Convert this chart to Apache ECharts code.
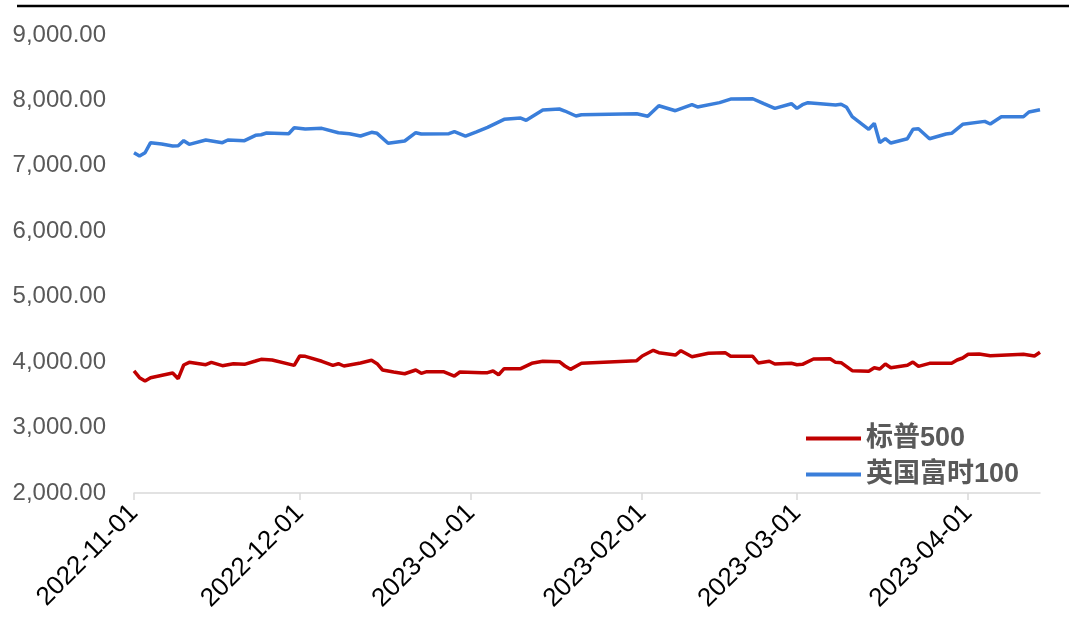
<!DOCTYPE html>
<html>
<head>
<meta charset="utf-8">
<script src="https://cdn.jsdelivr.net/npm/echarts@6/dist/echarts.min.js"></script>
<style>
html,body{margin:0;padding:0;background:#fff;}
#chart{width:1069px;height:638px;}
</style>
</head>
<body>
<div id="chart"></div>
<script>
// S&P 500 (标普500)
var spxDates = ['2022-11-01','2022-11-02','2022-11-03','2022-11-04','2022-11-08','2022-11-09','2022-11-10','2022-11-11','2022-11-14','2022-11-15','2022-11-17','2022-11-19','2022-11-21','2022-11-23','2022-11-24','2022-11-26','2022-11-30','2022-12-01','2022-12-02','2022-12-05','2022-12-07','2022-12-08','2022-12-09','2022-12-12','2022-12-14','2022-12-15','2022-12-16','2022-12-18','2022-12-20','2022-12-22','2022-12-23','2022-12-24','2022-12-27','2022-12-29','2022-12-30','2023-01-03','2023-01-04','2023-01-05','2023-01-06','2023-01-07','2023-01-10','2023-01-12','2023-01-14','2023-01-17','2023-01-18','2023-01-19','2023-01-21','2023-01-31','2023-02-01','2023-02-03','2023-02-04','2023-02-07','2023-02-08','2023-02-10','2023-02-13','2023-02-16','2023-02-17','2023-02-21','2023-02-22','2023-02-24','2023-02-25','2023-02-28','2023-03-01','2023-03-02','2023-03-04','2023-03-07','2023-03-08','2023-03-09','2023-03-11','2023-03-14','2023-03-15','2023-03-16','2023-03-17','2023-03-18','2023-03-21','2023-03-22','2023-03-23','2023-03-25','2023-03-29','2023-03-30','2023-03-31','2023-04-01','2023-04-03','2023-04-05','2023-04-11','2023-04-13','2023-04-14'];
var spxValues = [3865,3762,3712,3762,3835,3747,3956,3997,3961,3997,3946,3976,3966,4017,4043,4032,3951,4094,4089,4013,3951,3976,3941,3987,4028,3976,3880,3849,3823,3880,3829,3854,3854,3788,3849,3839,3839,3865,3808,3900,3900,3982,4013,4007,3941,3890,3982,4022,4094,4181,4145,4109,4175,4083,4135,4145,4089,4089,3987,4013,3972,3982,3961,3966,4048,4053,3997,3992,3870,3860,3915,3895,3972,3915,3951,4002,3936,3982,3982,4033,4063,4120,4124,4099,4120,4094,4150];

// FTSE 100 (英国富时100)
var ftseDates = ['2022-11-01','2022-11-02','2022-11-03','2022-11-04','2022-11-06','2022-11-08','2022-11-09','2022-11-10','2022-11-11','2022-11-14','2022-11-17','2022-11-18','2022-11-21','2022-11-23','2022-11-24','2022-11-25','2022-11-29','2022-11-30','2022-12-02','2022-12-05','2022-12-08','2022-12-10','2022-12-12','2022-12-14','2022-12-15','2022-12-17','2022-12-20','2022-12-22','2022-12-23','2022-12-28','2022-12-29','2022-12-31','2023-01-02','2023-01-04','2023-01-07','2023-01-10','2023-01-11','2023-01-14','2023-01-17','2023-01-18','2023-01-20','2023-01-21','2023-01-31','2023-02-02','2023-02-04','2023-02-07','2023-02-10','2023-02-11','2023-02-15','2023-02-17','2023-02-21','2023-02-23','2023-02-25','2023-02-28','2023-03-01','2023-03-02','2023-03-03','2023-03-08','2023-03-09','2023-03-10','2023-03-11','2023-03-14','2023-03-15','2023-03-16','2023-03-17','2023-03-18','2023-03-21','2023-03-22','2023-03-23','2023-03-25','2023-03-28','2023-03-29','2023-03-31','2023-04-04','2023-04-05','2023-04-07','2023-04-11','2023-04-12','2023-04-14'];
var ftseValues = [7201,7150,7200,7354,7334,7303,7308,7385,7329,7395,7354,7395,7385,7467,7476,7502,7491,7583,7563,7573,7507,7491,7456,7513,7497,7345,7380,7507,7487,7491,7522,7456,7520,7589,7711,7731,7696,7854,7869,7838,7762,7782,7797,7757,7919,7843,7935,7900,7966,8021,8026,7950,7879,7950,7879,7935,7966,7930,7941,7895,7751,7559,7650,7354,7415,7349,7415,7559,7568,7415,7487,7497,7635,7680,7640,7751,7751,7823,7858];

var seriesNames = ['标普500','英国富时100'];
var monthTicks = ['2022-11-01','2022-12-01','2023-01-01','2023-02-01','2023-03-01','2023-04-01'];
var xStart = '2022-11-01', xEnd = '2023-04-14';

function t(s){ return Date.parse(s + 'T00:00:00Z'); }
function pairs(d, v){ return d.map(function(x,i){ return [t(x), v[i]]; }); }
function pad(n){ return n < 10 ? '0'+n : ''+n; }
var tickTimes = monthTicks.map(t);

var chart = echarts.init(document.getElementById('chart'), null, {renderer:'canvas'});
chart.setOption({
  animation:false,
  backgroundColor:'#ffffff',
  textStyle:{fontFamily:'Liberation Sans, Arial, Noto Sans CJK SC, sans-serif'},
  grid:{left:134, right:29, top:35, bottom:145, containLabel:false},
  graphic:[{type:'line', shape:{x1:17,y1:6,x2:1069,y2:6}, style:{stroke:'#000',lineWidth:2.5}}],
  legend:{
    orient:'vertical', left:806, top:425, padding:0, icon:'rect', itemWidth:55, itemHeight:4, itemGap:9,
    textStyle:{fontSize:27, fontWeight:'bold', color:'#595959', padding:[0,0,0,0], fontFamily:'Liberation Sans, Noto Sans CJK SC, sans-serif'},
    data:seriesNames
  },
  xAxis:{
    type:'value',
    min:t(xStart), max:t(xEnd),
    axisLine:{lineStyle:{color:'#d9d9d9', width:1.5}},
    axisTick:{show:true, length:7, lineStyle:{color:'#d9d9d9', width:1.5}, customValues:tickTimes},
    splitLine:{show:false},
    axisLabel:{
      customValues:tickTimes,
      rotate:45, color:'#000', fontSize:26, margin:16,
      formatter:function(val){ var d=new Date(val); return d.getUTCFullYear()+'-'+pad(d.getUTCMonth()+1)+'-'+pad(d.getUTCDate()); }
    }
  },
  yAxis:{
    type:'value', min:2000, max:9000, interval:1000,
    axisLine:{show:false}, axisTick:{show:false}, splitLine:{show:false},
    axisLabel:{color:'#595959', fontSize:24, margin:28,
      formatter:function(v){ return v.toLocaleString('en-US',{minimumFractionDigits:2, maximumFractionDigits:2}); }}
  },
  series:[
    {name:seriesNames[0], type:'line', data:pairs(spxDates, spxValues), symbol:'none', showSymbol:false,
     lineStyle:{color:'#C00000', width:3.5}, itemStyle:{color:'#C00000'}},
    {name:seriesNames[1], type:'line', data:pairs(ftseDates, ftseValues), symbol:'none', showSymbol:false,
     lineStyle:{color:'#3A7EDA', width:3.5}, itemStyle:{color:'#3A7EDA'}}
  ]
});
</script>
</body>
</html>
